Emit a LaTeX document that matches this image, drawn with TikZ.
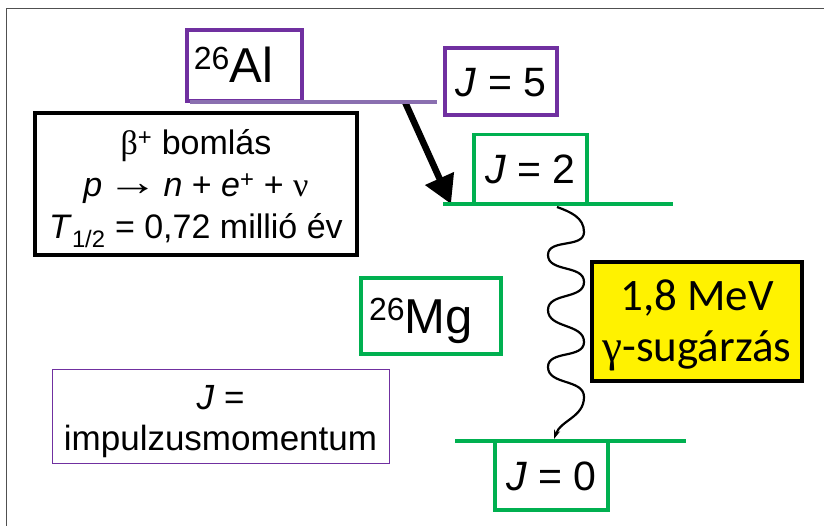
\documentclass[tikz,border=0pt]{standalone}
\usepackage{graphicx}
\usepackage{fontspec}
\setmainfont{Liberation Sans}
\newfontfamily\calfnt{Carlito}
\newfontfamily\grkfnt{Liberation Serif}
\usetikzlibrary{arrows.meta}
\definecolor{alpurple}{HTML}{7030A0}
\definecolor{linepurple}{HTML}{8A6FB0}
\definecolor{mggreen}{HTML}{00B050}
\definecolor{framegray}{HTML}{505050}
\newcommand\massnum[1]{\raisebox{13pt}{\fontsize{32}{32}\selectfont #1}}
\begin{document}
\begin{tikzpicture}[x=1pt,y=-1pt,
  tbox/.style={rectangle, inner sep=0pt, fill=white, text=black},
  purplebox/.style={tbox, draw=alpurple, line width=3.2pt},
  greenbox/.style={tbox, draw=mggreen, line width=3.2pt},
  blackbox/.style={tbox, draw=black, line width=3.2pt},
  levelline/.style={line width=4.5pt},
  jlabel/.style={font=\fontsize{41}{41}\selectfont, text height=29.4pt, text depth=0pt, minimum width=113pt, minimum height=69pt},
  isobox/.style={font=\fontsize{49}{49}\selectfont, text height=35pt, text depth=0pt},
]
\useasboundingbox (0,0) rectangle (824,526);
\draw[framegray, line width=1.6pt] (6.3,526) -- (6.3,8.7) -- (824,8.7);

% boxes
\node[purplebox, isobox, minimum width=115pt, minimum height=71pt] (al) at (244.5,65.5) {\massnum{26}Al\hspace*{22pt}};
\node[purplebox, jlabel, minimum width=112pt, minimum height=67pt] (j5) at (501,81.5) {\textit{J} = 5};
\node[blackbox, minimum width=322pt, minimum height=142pt, font=\fontsize{34}{42}\selectfont, text height=26pt, text depth=84pt] (beta) at (196,184)
  {\begin{tabular}[t]{@{}c@{}}{\grkfnt β}\textsuperscript{+} bomlás\\ \textit{p}\hspace{0.15em}{\grkfnt\raisebox{1pt}{\scalebox{1.5}[1.15]{→}}}\hspace{0.15em}\textit{n} + \textit{e}\textsuperscript{+} + {\grkfnt ν}\\ \textit{T}\textsubscript{1/2} = 0,72 millió év\end{tabular}};
\node[greenbox, jlabel] (j2) at (530.5,169) {\textit{J} = 2};
\node[greenbox, isobox, minimum width=140pt, minimum height=76pt] (mg) at (431,316) {\massnum{26}Mg\hspace*{20pt}};
\node[blackbox, fill=yellow, minimum width=210pt, minimum height=119pt, font=\calfnt\fontsize{45}{51}\selectfont, text height=29pt, text depth=51pt] (gamma) at (697,321.5)
  {\begin{tabular}[t]{@{}c@{}}1,8 MeV\\ {\grkfnt γ}-sugárzás\end{tabular}};
\node[tbox, draw=alpurple, line width=0.9pt, minimum width=337pt, minimum height=94pt, font=\fontsize{35}{41}\selectfont, text height=27pt, text depth=41pt] (jdef) at (220.5,416)
  {\begin{tabular}[t]{@{}c@{}}\textit{J} =\\ impulzusmomentum\end{tabular}};
\node[greenbox, jlabel] (j0) at (551.5,475.5) {\textit{J} = 0};

% level lines
\coordinate (alL) at (190,102);
\coordinate (alR) at (437,102);
\coordinate (mgTwoL) at (443,204);
\coordinate (mgTwoR) at (673,204);
\coordinate (mgZeroL) at (455,441);
\coordinate (mgZeroR) at (686,441);

% beta decay arrow
\coordinate (bstart) at (405,102);
\coordinate (btip) at (451,204);
\draw[line width=6.5pt, -{Triangle[length=28pt,width=30pt]}] (bstart) -- (btip);

\draw[levelline, linepurple] (alL) -- (alR);
\draw[levelline, mggreen] (mgTwoL) -- (mgTwoR);
\draw[levelline, mggreen] (mgZeroL) -- (mgZeroR);

% gamma wave
\coordinate (wtop) at (557,207);
\coordinate (wbot) at (554,439);
\draw[line width=2.2pt, -{Stealth[length=9pt,width=6pt]}] (wtop)
  to[out=-20,in=90] (584,232) to[out=-90,in=90] (548,255)
  to[out=-90,in=90] (584,282) to[out=-90,in=90] (548,310)
  to[out=-90,in=90] (584,342) to[out=-90,in=90] (548,367)
  to[out=-90,in=90] (584,397) to[out=-90,in=70] (wbot);
\end{tikzpicture}
\end{document}
